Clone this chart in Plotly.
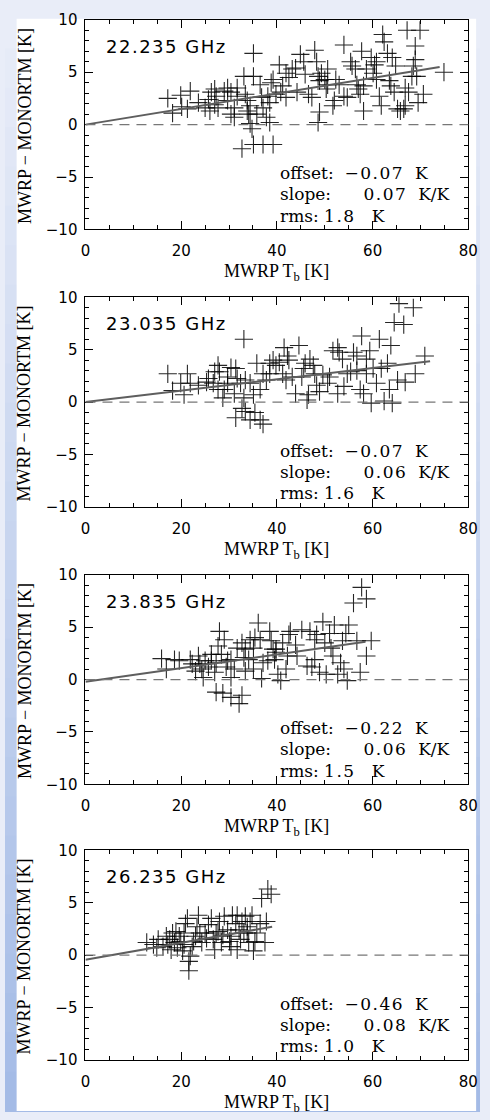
import plotly.graph_objects as go

W, H = 490, 1120

# ---------------- data ----------------
channels = ["22.235 GHz", "23.035 GHz", "23.835 GHz", "26.235 GHz"]
offset_vals = ["−0.07", "−0.07", "−0.22", "−0.46"]
slope_vals = ["0.07", "0.06", "0.06", "0.08"]
rms_vals = ["1.8", "1.6", "1.5", "1.0"]

x_tick_vals = [0, 20, 40, 60, 80]
y_tick_vals = [-10, -5, 0, 5, 10]
x_range = [0, 80]
y_range = [-10, 10]

# (MWRP Tb [K], MWRP - MONORTM [K])
pts_22235 = [
    (17.2, 2.5), (18.2, 1.1), (20.1, 1.7), (21.3, 1.5), (19.9, 2.8), (21.9, 3.2), (23.6, 2.1), (25.7, 2.4),
    (26.3, 3.1), (27.3, 2.7), (27.0, 1.9), (27.7, 1.6), (26.0, 1.3), (29.7, 3.5), (30.4, 3.1), (29.7, 2.3),
    (31.1, 1.6), (31.1, 0.7), (31.7, 2.7), (33.1, 4.6), (33.4, 2.9), (33.8, 2.3), (33.8, 1.3), (34.1, 1.0),
    (34.4, 0.1), (34.8, -0.4), (35.1, 6.8), (35.1, 4.6), (36.5, 3.8), (36.8, 2.6), (37.1, 1.6), (37.8, 0.7),
    (38.5, 0.2), (38.1, 2.7), (38.8, 4.0), (39.2, 4.3), (38.5, 2.1), (32.7, -2.3), (35.1, -1.9), (37.1, -1.9),
    (39.2, -1.9), (40.5, 5.7), (40.8, 3.1), (41.2, 3.7), (41.9, 4.9), (42.5, 4.5), (43.2, 5.3), (43.9, 5.4),
    (44.2, 3.1), (44.9, 6.7), (45.6, 6.0), (45.9, 4.8), (46.6, 2.9), (47.3, 2.6), (47.9, 7.1), (48.3, 6.0),
    (48.6, 4.6), (48.9, 4.2), (48.9, 1.2), (48.6, 0.2), (49.3, 4.9), (50.0, 4.3), (50.3, 3.4), (50.6, 5.3),
    (51.7, 1.8), (52.3, 4.3), (53.0, 3.8), (54.0, 7.6), (54.0, 2.7), (54.7, 2.6), (55.4, 6.0), (55.7, 5.6),
    (56.4, 5.3), (56.7, 3.8), (57.0, 3.4), (57.4, 2.9), (57.7, 7.0), (58.1, 1.3), (58.7, 5.3), (59.7, 6.4),
    (60.1, 4.9), (60.4, 5.7), (60.8, 6.0), (61.4, 2.7), (61.8, 1.8), (62.4, 7.9), (62.1, 8.6), (63.1, 6.8),
    (63.5, 4.2), (63.8, 3.7), (64.1, 6.4), (64.5, 3.1), (64.8, 5.6), (65.2, 1.5), (65.8, 1.3), (66.5, 1.5),
    (66.8, 1.8), (67.2, 9.0), (67.5, 3.1), (68.2, 4.6), (68.5, 5.6), (68.9, 7.5), (68.9, 6.2), (69.2, 4.6),
    (69.5, 2.1), (69.9, 9.0), (70.6, 2.9), (74.9, 5.0), (29.0, 3.2), (31.7, 3.5), (27.0, 3.4), (34.4, 1.8),
    (35.8, 1.0), (30.4, 1.0), (25.0, 1.6), (39.8, 2.9), (41.9, 2.6), (50.6, 3.8), (52.0, 2.3), (58.1, 3.7),
    (66.8, 3.5), (60.8, 4.3),
]
pts_23035 = [
    (17.2, 2.7), (18.2, 1.1), (20.6, 0.7), (21.3, 2.7), (21.9, 1.8), (19.9, 1.8), (23.6, 1.6), (25.3, 1.9),
    (25.7, 2.25), (26.7, 1.8), (27.7, 3.5), (28.0, 2.9), (27.7, 1.2), (28.7, 0.4), (29.0, 1.2), (29.7, 2.4),
    (30.4, 3.3), (31.1, 0.8), (31.4, 3.2), (32.4, 1.8), (33.1, 6.0), (33.1, 0.4), (33.4, 2.1), (32.7, -0.6),
    (31.4, -1.5), (33.4, -0.9), (34.4, -1.7), (35.4, -1.0), (36.5, -1.7), (37.1, -2.1), (35.8, 3.7), (36.5, 1.2),
    (37.1, 2.7), (37.8, 2.1), (38.5, 3.7), (39.2, 4.0), (39.8, 3.5), (40.5, 3.8), (41.2, 2.7), (41.5, 5.2),
    (42.2, 4.4), (42.5, 4.0), (43.2, 2.4), (43.9, 0.8), (44.6, 5.4), (45.6, 3.2), (45.9, 3.7), (46.3, 0.2),
    (46.6, 0.7), (46.9, 4.1), (47.6, 3.5), (47.9, 2.7), (48.3, 1.6), (48.9, 1.0), (49.6, 2.6), (51.0, 2.4),
    (51.7, 4.9), (52.7, 5.2), (53.0, 4.75), (52.7, 0.8), (53.7, 4.1), (54.0, 1.5), (54.7, 2.7), (55.4, 2.9),
    (56.0, 4.75), (56.7, 4.4), (57.4, 1.2), (57.7, 6.3), (58.1, 0.8), (58.7, 4.1), (59.4, 4.9), (59.7, -0.1),
    (60.1, 3.2), (60.8, 1.8), (61.4, 6.0), (61.8, 3.2), (62.4, 0.1), (63.1, 3.7), (63.5, 1.2), (63.8, 5.4),
    (64.1, -0.1), (64.5, 7.6), (65.2, 2.1), (65.5, 9.4), (66.5, 7.4), (66.8, 1.9), (68.5, 9.0), (68.9, 2.7),
    (70.9, 4.4), (27.0, 2.9), (29.7, 1.8), (31.7, 2.25), (34.4, 1.8), (35.1, 0.7), (38.5, 2.7), (41.9, 2.1),
    (45.2, 2.4), (50.6, 1.8), (56.7, 3.0), (58.7, 2.7),
]
pts_23835 = [
    (15.9, 2.0), (16.9, 1.0), (18.6, 1.9), (19.6, 1.8), (21.9, 1.9), (22.3, 1.5), (23.0, 0.8), (23.6, 2.25),
    (23.9, 1.5), (24.6, 0.2), (25.0, 1.8), (25.7, 1.2), (26.3, 2.4), (27.0, 0.7), (27.3, 1.6), (27.7, 3.2),
    (28.0, 4.6), (28.4, 2.4), (29.0, 3.8), (29.4, 1.2), (29.7, 1.8), (30.4, 0.2), (31.1, 1.0), (27.3, -1.2),
    (28.7, -1.3), (30.4, -1.7), (32.1, -2.3), (32.7, -1.5), (31.7, 3.0), (32.7, 3.5), (33.1, 2.1), (33.4, 0.8),
    (34.1, 1.9), (34.4, 3.8), (35.1, 3.0), (35.4, 4.0), (36.1, 5.4), (36.5, 3.8), (36.8, 0.1), (37.1, 1.6),
    (38.1, 1.8), (38.5, 4.6), (38.8, 3.7), (39.2, 2.9), (39.5, 1.9), (39.8, 2.9), (40.2, 0.5), (40.8, -0.1),
    (41.2, 3.5), (41.9, 1.0), (42.2, 2.25), (42.5, 4.3), (42.8, 4.6), (43.9, 3.3), (44.2, 2.25), (45.2, 4.75),
    (46.3, 1.3), (46.9, 4.6), (47.3, 1.2), (47.9, 3.8), (48.3, 4.3), (48.9, 0.7), (49.6, 5.5), (50.0, 3.5),
    (50.3, 0.5), (51.0, 4.4), (51.3, 3.0), (51.7, 2.25), (52.0, 5.2), (52.7, 0.5), (53.3, 1.6), (53.7, 3.7),
    (54.0, 1.0), (54.4, 4.4), (54.7, -0.1), (55.0, 5.2), (56.0, 7.3), (56.7, 3.7), (57.4, 0.7), (57.7, 8.8),
    (58.7, 7.7), (58.7, 2.25), (59.7, 3.7), (24.3, 1.0), (26.3, 1.8), (30.4, 1.9), (33.4, 2.9), (35.1, 1.0),
    (39.8, 2.6), (47.9, 1.9),
]
pts_26235 = [
    (12.8, 1.2), (14.2, 1.0), (15.2, 1.5), (16.2, 0.8), (16.9, 1.8), (17.6, 1.5), (17.9, 0.5), (18.6, 1.2),
    (18.9, 2.25), (19.2, 0.7), (19.9, 1.3), (20.3, 0.4), (20.6, 2.1), (20.9, 3.0), (21.3, 3.5), (21.6, -0.6),
    (21.6, -1.5), (21.9, -0.1), (22.3, 0.8), (23.0, 1.8), (23.3, 2.7), (23.6, 3.8), (24.3, 1.2), (25.0, 2.1),
    (25.7, 2.9), (26.3, 3.5), (26.7, 1.5), (27.0, 0.5), (27.7, 2.25), (28.0, 3.2), (28.4, 1.2), (29.0, 3.7),
    (29.7, 2.4), (30.4, 1.8), (30.7, 3.8), (31.4, 3.0), (31.7, 0.5), (32.4, 1.5), (32.7, 3.2), (33.1, 2.1),
    (33.4, 3.7), (33.8, 2.7), (34.1, 1.2), (34.8, 3.8), (35.1, 0.4), (35.8, 2.1), (36.5, 3.0), (36.8, 5.4),
    (37.5, 1.2), (37.8, 3.2), (38.1, 6.3), (38.8, 5.8), (14.9, 0.7), (17.2, 1.0), (18.2, 2.1), (19.6, 1.8),
    (20.6, 1.0), (22.6, 1.3), (23.9, 2.1), (25.3, 1.6), (27.3, 2.1), (28.7, 1.9), (30.1, 1.3), (32.1, 2.4),
    (33.8, 2.1), (34.4, 3.2), (31.7, 3.8), (35.4, 1.3), (30.4, 0.8),
]
scatter_sets = [pts_22235, pts_23035, pts_23835, pts_26235]

# fitted lines (start / end)
fit_x = [[0, 74], [0, 72], [0, 58.5], [0, 39]]
fit_y = [[0.0, 5.5], [0.0, 3.9], [-0.2, 3.6], [-0.45, 2.7]]
zero_level = 0

# ---------------- layout helpers ----------------
panel_tops = [11, 293, 575, 855]
panel_h = 213
px_left, px_right = 83, 478


def fx(p):
    return p / W


def fy(p):
    return 1 - p / H


fig = go.Figure()
shapes = []
annotations = []

# page background: light-blue gradient with white picture area
n_seg = 28
c_top = (233, 237, 248)
c_bot = (164, 187, 230)
for k in range(n_seg):
    t = k / (n_seg - 1)
    col = tuple(round(c_top[j] + (c_bot[j] - c_top[j]) * t) for j in range(3))
    shapes.append(dict(type="rect", xref="paper", yref="paper", x0=0, x1=1,
                       y0=fy((k + 1) * H / n_seg) - 0.001, y1=fy(k * H / n_seg),
                       fillcolor="rgb(%d,%d,%d)" % col, line=dict(width=0), layer="below"))
shapes.append(dict(type="rect", xref="paper", yref="paper", x0=fx(12), x1=fx(486),
                   y0=0, y1=fy(10), fillcolor="white", line=dict(width=0), layer="below"))

serif = "Liberation Serif"
sans = "DejaVu Sans"
stat_font = "DejaVu Serif"
NB = "\u00a0"
LS = "<span style='letter-spacing:1.5px'>%s</span>"

for i in range(4):
    ax = "" if i == 0 else str(i + 1)
    top = panel_tops[i]
    bot = top + panel_h
    pts = scatter_sets[i]
    xs = [p[0] for p in pts]
    ys = [p[1] for p in pts]

    fig.add_trace(go.Scatter(
        x=xs, y=ys, mode="markers", xaxis="x" + ax, yaxis="y" + ax,
        marker=dict(symbol="cross-thin", size=13, color="rgba(0,0,0,0.85)",
                    line=dict(width=1.1, color="rgba(0,0,0,0.85)")),
        showlegend=False, hoverinfo="skip"))
    fig.add_trace(go.Scatter(
        x=fit_x[i], y=fit_y[i], mode="lines", xaxis="x" + ax, yaxis="y" + ax,
        line=dict(color="#5e5e5e", width=2), showlegend=False, hoverinfo="skip"))

    shapes.append(dict(type="line", xref="x%s domain" % ax, yref="y" + ax, x0=0, x1=1,
                       y0=zero_level, y1=zero_level, line=dict(color="#777777", width=1.2, dash="10px,7px")))

    common = dict(showline=True, linecolor="black", linewidth=1, mirror="ticks",
                  ticks="inside", tickcolor="black", tickwidth=1, showgrid=False,
                  zeroline=False, fixedrange=True)
    fig.update_layout(**{
        "xaxis" + ax: dict(
            domain=[fx(px_left), fx(px_right)], range=x_range, tickvals=x_tick_vals,
            ticklen=8, anchor="y" + ax,
            minor=dict(ticks="inside", dtick=5, tick0=0, ticklen=4, tickcolor="black", showgrid=False),
            tickfont=dict(family=sans, size=15, color="black"), ticklabelstandoff=8, **common),
        "yaxis" + ax: dict(
            domain=[fy(bot), fy(top)], range=y_range, tickvals=y_tick_vals,
            ticklen=8, anchor="x" + ax,
            minor=dict(ticks="inside", dtick=1, tick0=0, ticklen=4, tickcolor="black", showgrid=False),
            tickfont=dict(family=sans, size=15, color="black"), ticklabelstandoff=4,
            tickformat="d", **common),
    })

    annotations.append(dict(
        xref="paper", yref="paper", x=fx(102), y=fy(top + 27), xanchor="left", yanchor="middle",
        text="<span style='letter-spacing:1.5px'>%s</span>" % channels[i], showarrow=False,
        font=dict(family=sans, size=18, color="black")))
    stats = [
        "offset:" + NB * 2 + LS % offset_vals[i] + NB * 2 + "K",
        "slope:" + NB * 6 + LS % slope_vals[i] + NB * 2 + "K/K",
        "rms:" + NB + LS % rms_vals[i] + NB * 3 + "K",
    ]
    for k, s in enumerate(stats):
        annotations.append(dict(
            xref="paper", yref="paper", x=fx(282), y=fy(top + 156 + 21.5 * k), xanchor="left",
            yanchor="middle", text=s, showarrow=False,
            font=dict(family=stat_font, size=17, color="black")))
    annotations.append(dict(
        xref="paper", yref="paper", x=fx((px_left + px_right) / 2), y=fy(bot + 44),
        xanchor="center", yanchor="middle", text="MWRP T<sub>b</sub> [K]", showarrow=False,
        font=dict(family=serif, size=18, color="black")))
    annotations.append(dict(
        xref="paper", yref="paper", x=fx(20), y=fy(top + panel_h / 2 + 1), xanchor="center",
        yanchor="middle", textangle=-90, text="MWRP − MONORTM [K]", showarrow=False,
        font=dict(family=serif, size=18, color="black")))

fig.update_layout(
    width=W, height=H, margin=dict(l=0, r=0, t=0, b=0),
    paper_bgcolor="rgb(233,237,248)", plot_bgcolor="white",
    shapes=shapes, annotations=annotations, showlegend=False,
)

fig.write_html(
    "out.html",
    config={"displayModeBar": False, "staticPlot": True},
    post_script=(
        "document.documentElement.style.margin='0';"
        "document.documentElement.style.overflow='hidden';"
        "document.body.style.margin='0';document.body.style.overflow='hidden';"
        "var d=document.getElementById('{plot_id}');"
        "d.style.position='fixed';d.style.left='0px';d.style.top='0px';"
    ),
)
